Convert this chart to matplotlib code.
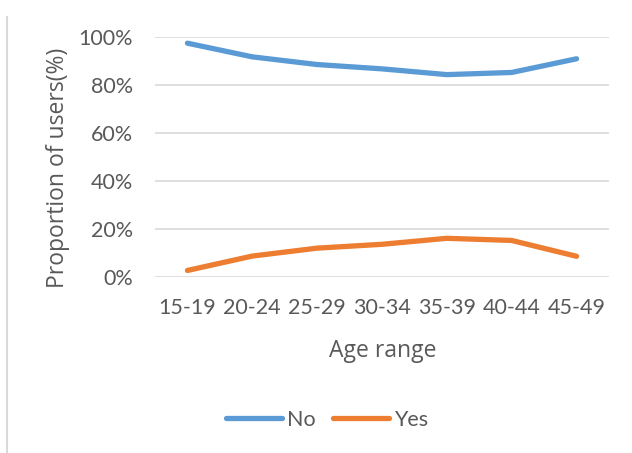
import matplotlib
matplotlib.use("Agg")
import matplotlib.pyplot as plt
from matplotlib.lines import Line2D
from matplotlib.ticker import FuncFormatter

# Share of users by age group
age_ranges = ["15-19", "20-24", "25-29", "30-34", "35-39", "40-44", "45-49"]
no_share = [97.3, 91.6, 88.4, 86.6, 84.2, 85.1, 90.8]
yes_share = [2.6, 8.6, 11.9, 13.5, 16.0, 15.1, 8.5]
y_ticks = [0, 20, 40, 60, 80, 100]

BLUE = "#5B9BD5"
ORANGE = "#ED7D31"
TEXT = "#595959"
GRID = "#D9D9D9"
FS = 15.5
TITLE_FONT = ["Open Sans", "DejaVu Sans"]
TITLE_FS = 16.5

plt.rcParams["font.family"] = ["Lato", "DejaVu Sans"]

W, H = 632, 453
fig = plt.figure(figsize=(W / 100, H / 100), dpi=100)
ax = fig.add_axes([155 / W, 1 - 276.7 / H, (609 - 155) / W, (276.7 - 36.7) / H])

x = list(range(len(age_ranges)))
lw = 3.8
ax.plot(x, no_share, color=BLUE, lw=lw, solid_capstyle="round", solid_joinstyle="round", label="No")
ax.plot(x, yes_share, color=ORANGE, lw=lw, solid_capstyle="round", solid_joinstyle="round", label="Yes")

ax.set_xlim(-0.5, len(age_ranges) - 0.5)
ax.set_ylim(0, 100)
ax.set_yticks(y_ticks)
ax.yaxis.set_major_formatter(FuncFormatter(lambda v, _: f"{v:.0f}%"))
ax.set_xticks(x)
ax.set_xticklabels(age_ranges)

ax.grid(axis="y", color=GRID, lw=1.2)
ax.set_axisbelow(True)
for s in ax.spines.values():
    s.set_visible(False)
ax.tick_params(length=0, labelsize=FS, labelcolor=TEXT)
ax.tick_params(axis="y", pad=16)
ax.tick_params(axis="x", pad=15)

# axis titles
fig.text(383 / W, 1 - 357 / H, "Age range", ha="center", va="baseline",
         fontsize=TITLE_FS, color=TEXT, family=TITLE_FONT)
fig.text(58 / W, 1 - 167.5 / H, "Proportion of users(%)", ha="center", va="center",
         rotation=90, fontsize=TITLE_FS, color=TEXT, family=TITLE_FONT)

leg = fig.legend(loc="center", bbox_to_anchor=(327 / W, 1 - 420 / H), ncol=2, frameon=False,
                 fontsize=FS, handlelength=2.6, handletextpad=0.25, columnspacing=0.8)
for t in leg.get_texts():
    t.set_color(TEXT)
for h in leg.legend_handles:
    h.set_solid_capstyle("round")

# chart-area border on the left side
fig.add_artist(Line2D([7 / W, 7 / W], [0, 1 - 17 / H], transform=fig.transFigure,
                      color=GRID, lw=1.5))

fig.savefig("out.png", dpi=100)
